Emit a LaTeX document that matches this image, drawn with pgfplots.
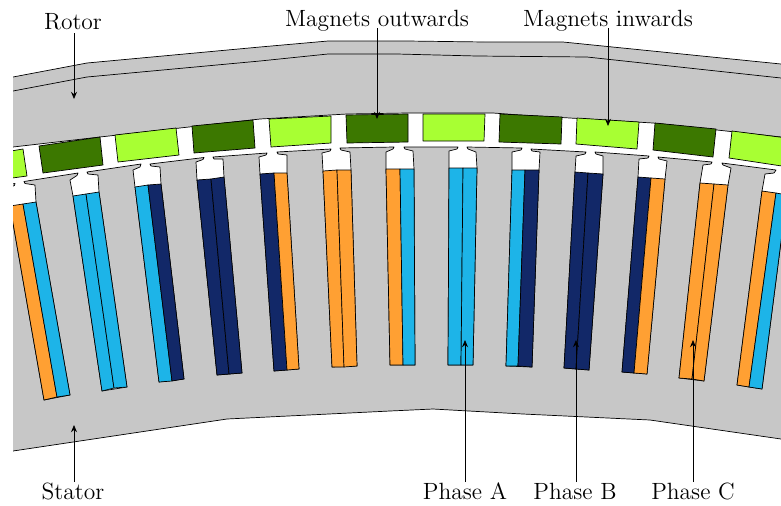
\documentclass[border=0pt]{standalone}
\usepackage{pgfplots}
\pgfplotsset{compat=1.18}
\usetikzlibrary{arrows.meta}
\definecolor{ir}{RGB}{199,199,199}
\definecolor{mo}{RGB}{60,120,0}
\definecolor{mi}{RGB}{168,255,51}
\definecolor{pa}{RGB}{29,180,232}
\definecolor{pb}{RGB}{18,40,104}
\definecolor{pc}{RGB}{255,160,51}
\newcommand\poly[2]{\addplot[fill=#1,draw=black,line width=0.35pt,line join=round] coordinates {#2} --cycle;}
\newcommand\arrowp[1]{\addplot[black,line width=0.4pt,-{Stealth[length=3.6pt,width=3pt]}] coordinates {#1};}
\newcommand\lab{\fontsize{11.75}{14}\selectfont}
\begin{document}
\begin{tikzpicture}
\begin{axis}[
  scale only axis, width=390.5pt, height=252.5pt,
  xmin=0, xmax=781, ymin=0, ymax=505, y dir=reverse,
  hide axis, clip=true]
\addplot[fill=white,draw=none] coordinates {(0,0)(781,0)(781,505)(0,505)} --cycle;
% rotor
\poly{ir}{(5,78.5)(13,77)(87,63)(260,47)(328,41)(407,41)(485,42)(563,42)(781,64)(800,66)(800,139)(781,137)(653,123)(520,115)(493,113)(407,113)(347,114)(260,119)(100,137)(13,147)(5,148)}
\addplot[black,line width=0.35pt] coordinates {(5,92.4)(13,91)(87,77)(260,61)(328,54)(397,54)(477,56)(587,57)(781,78)(800,80)};
% magnets
\poly{mi}{(5,152)(23,149)(27,176)(5,179)}
\poly{mo}{(39,146)(100,137)(103,165)(43,173)}
\poly{mi}{(115,135)(176,128)(179,155)(118,162)}
\poly{mo}{(192,126)(253,120)(255,148)(194,153)}
\poly{mi}{(269,119)(331,116)(331,143)(271,147)}
\poly{mo}{(346,115)(408,114)(408,142)(347,143)}
\poly{mi}{(423,114)(485,114)(484,141)(423,141)}
\poly{mo}{(500,114)(562,117)(561,144)(499,142)}
\poly{mi}{(577,118)(639,122)(637,149)(576,144)}
\poly{mo}{(655,123)(716,129)(713,157)(653,150)}
\poly{mi}{(732,131)(795,139)(795,168)(729,158)}
% stator
\poly{ir}{(5,452.4)(5,185)
(15,183.5)(14.5,185.5)(8,188)(10,206)(44,400)(70,395)(36,202)(35,185)(25,183.5)(24,181.5)
(78,173)(77,175.5)(70,180)(73,196)(102,391)(127,387)(99,192)(98,175)(88,174)(87,172)
(141,164)(140,167)(133,170)(135,187)(159,382)(184,379)(161,184)(160,167)(151,166)(150,164)
(204,157.5)(203,159.5)(196,162)(197,180)(217,375)(242,373)(224,177)(223,159)(214,159)(213,157)
(267,153)(266,155)(259,157)(260,174)(274,371)(299,369)(287,173)(287,155)(278,154)(277,152)
(331,149)(330,151)(322,153)(323,171)(332,367)(357,366)(351,170)(350,152)(341,150)(340,148)
(394,147)(393,149)(386,152)(386,169)(390,365)(415,365)(414,169)(413,151)(405,149)(404,147)
(458,147)(457,149)(449,151)(449,168)(448,365)(473,365)(477,168)(476,152)(468,149)(467,147)
(522,148)(521,150)(512,152)(512,170)(506,366)(532,367)(539,170)(540,152)(532,151)(531,149)
(586,152)(585,154)(576,156)(575,172)(564,368)(589,370)(603,174)(603,156)(596,154)(595,152)
(649,156)(648,158)(639,159)(638,177)(622,372)(647,374)(665,179)(667,161)(659,159)(658,157)
(712,162)(711,164)(703,165)(700,183)(679,378)(704,381)(728,185)(731,168)(723,165)(722,163)
(776,170)(774,173)(765,174)(762,191)(737,385)(762,389)(787,195)(790,175)(800,170)
(800,443)(781,439)(650,420)(523,414)(433,409)(390,411)(227,419)(13,451)}
% coils
\poly{pc}{(10,206)(23,204)(57,397)(44,400)}
\poly{pa}{(23,204)(36,202)(70,395)(57,397)}
\poly{pa}{(73,196)(86,194)(114,388)(102,391)}
\poly{pa}{(86,194)(99,192)(127,387)(114,388)}
\poly{pa}{(135,187)(148,185)(172,381)(159,382)}
\poly{pb}{(148,185)(161,184)(184,379)(172,381)}
\poly{pb}{(197,180)(211,179)(229,374)(217,375)}
\poly{pb}{(211,179)(224,177)(242,373)(229,374)}
\poly{pb}{(260,174)(274,173)(287,370)(274,371)}
\poly{pc}{(274,173)(287,173)(299,369)(287,370)}
\poly{pc}{(323,171)(337,170)(344,367)(332,367)}
\poly{pc}{(337,170)(351,170)(357,366)(344,367)}
\poly{pc}{(386,169)(400,169)(403,365)(390,365)}
\poly{pa}{(400,169)(414,169)(415,365)(403,365)}
\poly{pa}{(449,168)(463,168)(461,365)(448,365)}
\poly{pa}{(463,168)(477,168)(473,365)(461,365)}
\poly{pa}{(512,170)(525,170)(518,366)(506,366)}
\poly{pb}{(525,170)(539,170)(532,367)(518,366)}
\poly{pb}{(575,172)(588,173)(576,369)(564,368)}
\poly{pb}{(588,173)(603,174)(589,370)(576,369)}
\poly{pb}{(638,177)(651,178)(634,373)(622,372)}
\poly{pc}{(651,178)(665,179)(647,374)(634,373)}
\poly{pc}{(700,183)(714,184)(692,379)(679,378)}
\poly{pc}{(714,184)(728,185)(704,381)(692,379)}
\poly{pc}{(762,191)(776,193)(749,387)(737,385)}
\poly{pa}{(776,193)(787,195)(762,389)(749,387)}
% left margin
\addplot[fill=white,draw=none] coordinates {(0,0)(13,0)(13,505)(0,505)} --cycle;
% arrows
\arrowp{(74,33)(74,99)}
\arrowp{(377,28)(377,119)}
\arrowp{(608,28)(608,126)}
\arrowp{(74,482)(74,425)}
\arrowp{(465,482)(465,340)}
\arrowp{(576,482)(576,340)}
\arrowp{(693,482)(693,340)}
\node[font=\lab,inner sep=0pt] at (axis cs:73,22) {Rotor};
\node[font=\lab,inner sep=0pt] at (axis cs:377,20.5) {Magnets outwards};
\node[font=\lab,inner sep=0pt] at (axis cs:608,20.5) {Magnets inwards};
\node[font=\lab,inner sep=0pt] at (axis cs:73,491.5) {Stator};
\node[font=\lab,inner sep=0pt] at (axis cs:465,491.5) {Phase A};
\node[font=\lab,inner sep=0pt] at (axis cs:575,491.5) {Phase B};
\node[font=\lab,inner sep=0pt] at (axis cs:693,491.5) {Phase C};
\end{axis}
\end{tikzpicture}
\end{document}
